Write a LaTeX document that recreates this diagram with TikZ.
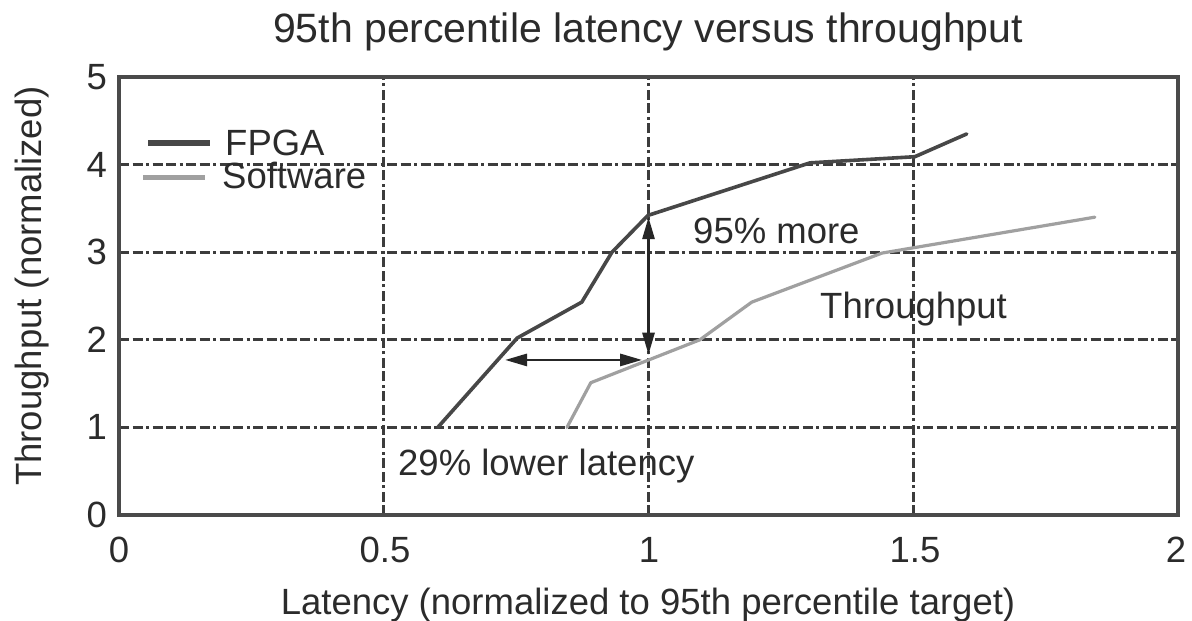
\documentclass[tikz,border=0pt]{standalone}
\usepackage{fontspec}
\setmainfont{Liberation Sans}
\usetikzlibrary{arrows.meta}
\definecolor{txt}{HTML}{2B2B2B}
\definecolor{framec}{HTML}{4A4A4A}
\definecolor{gridc}{HTML}{3C3C3C}
\definecolor{fpgac}{HTML}{474747}
\definecolor{swc}{HTML}{A0A0A0}
\begin{document}
\begin{tikzpicture}[x=1pt,y=-1pt,
  lbl/.style={inner sep=0pt, text=txt, font=\fontsize{36.5}{40}\selectfont},
  ttl/.style={inner sep=0pt, text=txt, font=\fontsize{41}{45}\selectfont},
  gridline/.style={draw=gridc, line width=2.8pt, dash pattern=on 10pt off 3.5pt on 10pt off 3.5pt on 3pt off 3.5pt},
  framebox/.style={draw=framec, line width=3.2pt},
  fpgaline/.style={draw=fpgac, line width=3.6pt, line join=round, line cap=round},
  swline/.style={draw=swc, line width=3.2pt, line join=round, line cap=round},
  dimarrow/.style={draw=black!85, line width=2.8pt, {Triangle[length=22pt,width=12pt]}-{Triangle[length=22pt,width=12pt]}}
]
\useasboundingbox (0,0) rectangle (1192,621);
\fill[white] (0,0) rectangle (1192,621);

\begin{scope}[shift={(119pt,-515pt)}, x=529.5pt, y=87.6pt]
  % grid
  \foreach \gx in {0.5,1,1.5} \draw[gridline] (\gx,0) -- (\gx,5);
  \foreach \gy in {1,2,3,4} \draw[gridline] (0,\gy) -- (2,\gy);
  % frame
  \draw[framebox] (0,0) rectangle (2,5);
  % software curve
  \draw[swline] (0.846,1.0) -- (0.891,1.51) -- (1.097,2.0) -- (1.195,2.43) -- (1.441,2.99) -- (1.843,3.40);
  % FPGA curve
  \draw[fpgaline] (0.602,1.0) -- (0.752,2.02) -- (0.874,2.43) -- (0.931,3.0) -- (0.999,3.42) -- (1.305,4.02) -- (1.503,4.09) -- (1.601,4.35);
  % arrows
  \coordinate (hl) at (0.729,1.77);
  \coordinate (hr) at (0.988,1.77);
  \coordinate (vb) at (1.0,1.83);
  \coordinate (vt) at (1.0,3.40);
  \draw[dimarrow] (hl) -- (hr);
  \draw[dimarrow] (vb) -- (vt);
\end{scope}

% legend
\coordinate (lf1) at (148,143);
\coordinate (lf2) at (210,143);
\coordinate (ls1) at (143,177);
\coordinate (ls2) at (205,177);
\draw[draw=fpgac, line width=5.5pt] (lf1) -- (lf2);
\draw[draw=swc, line width=5pt] (ls1) -- (ls2);
\node[lbl, anchor=base west] (legF) at (225,155) {FPGA};
\node[lbl, anchor=base west] (legS) at (222,188) {Software};

% annotations
\node[lbl, anchor=base west] (more) at (693,243) {95\% more};
\node[lbl, anchor=base west] (thr) at (820,318) {Throughput};
\node[lbl, anchor=base west] (lat) at (398,475) {29\% lower latency};

% title and axis labels
\node[ttl, anchor=base] (title) at (648,42) {95th percentile latency versus throughput};
\node[lbl, anchor=base] (xlab) at (648,614) {Latency (normalized to 95th percentile target)};
\node[lbl, rotate=90] (ylab) at (32,286) {Throughput (normalized)};

% x ticks
\node[lbl, anchor=base] (x0) at (119,562) {0};
\node[lbl, anchor=base] (x05) at (385,562) {0.5};
\node[lbl, anchor=base] (x1) at (649,562) {1};
\node[lbl, anchor=base] (x15) at (915,562) {1.5};
\node[lbl, anchor=base] (x2) at (1176,562) {2};

% y ticks
\node[lbl, anchor=east] (y0) at (107,515) {0};
\node[lbl, anchor=east] (y1) at (107,427.4) {1};
\node[lbl, anchor=east] (y2) at (107,339.8) {2};
\node[lbl, anchor=east] (y3) at (107,252.2) {3};
\node[lbl, anchor=east] (y4) at (107,164.6) {4};
\node[lbl, anchor=east] (y5) at (107,77) {5};
\end{tikzpicture}
\end{document}
